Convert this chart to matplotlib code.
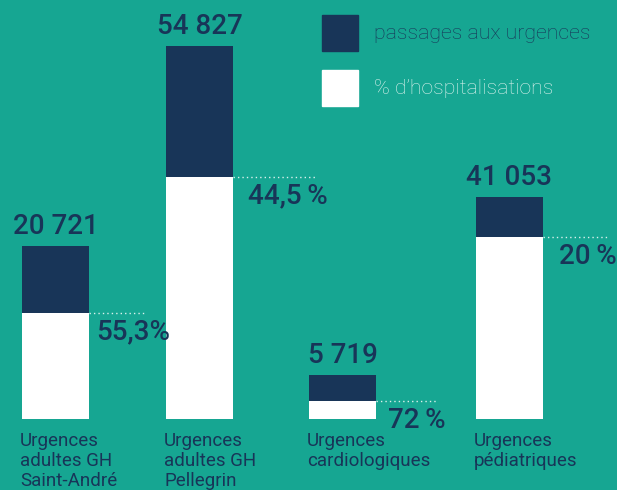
import matplotlib.pyplot as plt
from matplotlib.patches import Rectangle

# data read off the infographic (bar lengths are drawn, not to scale)
categories = ['Urgences\nadultes GH\nSaint-André', 'Urgences\nadultes GH\nPellegrin',
              'Urgences\ncardiologiques', 'Urgences\npédiatriques']
passages_labels = ['20 721', '54 827', '5 719', '41 053']
hosp_labels = ['55,3%', '44,5\u2009%', '72\u2009%', '20\u2009%']
bar_total = [173, 373, 44, 222]
bar_hosp = [106, 242, 18, 182]

legend_labels = ['passages aux urgences', '% d\u2019hospitalisations']

# layout / style
BG = '#16a692'
NAVY = '#183558'
PALE = '#d9f1ec'
xpos = [55.5, 199.5, 342.5, 509.5]
width = 67
pct_dx = [7, 15, 12, 16]
dot_len = [55, 82, 60, 65]

plt.rcParams['font.family'] = ['Roboto', 'DejaVu Sans']

fig = plt.figure(figsize=(6.17, 4.90), dpi=100, facecolor=BG)
ax = fig.add_axes([0, 0, 1, 1])
ax.set_facecolor(BG)
ax.set_xlim(0, 617)
ax.set_ylim(-71.3, 418.7)
ax.axis('off')

ax.bar(xpos, bar_total, width=width, color=NAVY)
ax.bar(xpos, bar_hosp, width=width, color='white')

for x, tot, h, lab, pct, dx, dl, cat in zip(xpos, bar_total, bar_hosp, passages_labels,
                                            hosp_labels, pct_dx, dot_len, categories):
    ax.text(x, tot + 12, lab, ha='center', va='baseline', fontsize=20,
            fontweight='medium', color=NAVY)
    right = x + width / 2
    ax.plot([right, right + dl], [h, h], color=PALE, lw=1, dashes=(1, 2.2))
    ax.text(right + dx, h - 6, pct, ha='left', va='top', fontsize=20,
            fontweight='medium', color=NAVY)
    ax.text(x - width / 2 - 2, -13, cat, ha='left', va='top', fontsize=13.5,
            fontweight='normal', color=NAVY, linespacing=1.17)

# legend
ax.add_patch(Rectangle((322, 418.7 - 51), 36, 36, color=NAVY))
ax.add_patch(Rectangle((322, 418.7 - 106), 36, 36, color='white'))
ax.text(374, 418.7 - 34, legend_labels[0], ha='left', va='center', fontsize=15.3,
        fontweight='light', color=NAVY)
ax.text(374, 418.7 - 89, legend_labels[1], ha='left', va='center', fontsize=15.3,
        fontweight='light', color=PALE)

fig.savefig('out.png', dpi=100, facecolor=BG)
